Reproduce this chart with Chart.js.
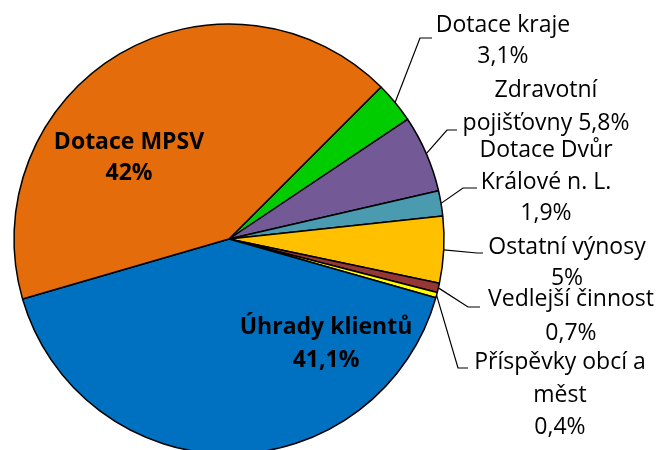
<!DOCTYPE html>
<html>
<head>
<meta charset="utf-8">
<script src="https://cdn.jsdelivr.net/npm/chart.js@4/dist/chart.umd.min.js"></script>
<style>
html,body{margin:0;padding:0;background:#fff;overflow:hidden;}
#wrap{width:658px;height:450px;position:relative;}
</style>
</head>
<body>
<div id="wrap"><canvas id="c" width="658" height="450"></canvas></div>
<script>
// categories in clockwise order starting at 45° from top
const categories = ["Dotace kraje", "Zdravotní pojišťovny", "Dotace Dvůr Králové n. L.", "Ostatní výnosy", "Vedlejší činnost", "Příspěvky obcí a měst", "Úhrady klientů", "Dotace MPSV"];
const shares = [3.1, 5.8, 1.9, 5, 0.7, 0.4, 41.1, 42];
const shareLabels = ["3,1%", "5,8%", "1,9%", "5%", "0,7%", "0,4%", "41,1%", "42%"];
const colors = ["#00CC00", "#735A96", "#4A9AB0", "#FFC000", "#953735", "#FFFF00", "#0070C0", "#E46C0A"];

// label layout (text lines, line centres, leader elbow)
const labelLayout = [
  {lines: ["Dotace kraje", "3,1%"], x: 503, y: [25, 56], elbow: [[420, 38], [432, 38]]},
  {lines: ["Zdravotní", "pojišťovny 5,8%"], x: 546, y: [90, 123], elbow: [[447, 130], [457, 130]]},
  {lines: ["Dotace Dvůr", "Králové n. L.", "1,9%"], x: 546, y: [150, 182, 213], elbow: [[463, 188], [477, 188]]},
  {lines: ["Ostatní výnosy", "5%"], x: 567, y: [247, 278], elbow: [[477, 253], [483, 253]]},
  {lines: ["Vedlejší činnost", "0,7%"], x: 571, y: [299, 333], elbow: [[468, 307], [480, 307]]},
  {lines: ["Příspěvky obcí a", "měst", "0,4%"], x: 560, y: [362, 395, 427], elbow: [[458, 368], [468, 368]]},
  {lines: ["Úhrady klientů", "41,1%"], x: 326, y: [327, 360], bold: true},
  {lines: ["Dotace MPSV", "42%"], x: 129, y: [142, 173], bold: true}
];

const FONT = "'Open Sans', sans-serif";

const labelPlugin = {
  id: 'pieLabels',
  afterDatasetsDraw(chart) {
    const ctx = chart.ctx;
    const meta = chart.getDatasetMeta(0);
    ctx.save();
    meta.data.forEach((arc, i) => {
      const L = labelLayout[i];
      if (!L) return;
      if (L.elbow) {
        const p = arc.getProps(['x', 'y', 'startAngle', 'endAngle', 'outerRadius']);
        const mid = (p.startAngle + p.endAngle) / 2;
        const ax = p.x + Math.cos(mid) * p.outerRadius;
        const ay = p.y + Math.sin(mid) * p.outerRadius;
        ctx.beginPath();
        ctx.moveTo(ax, ay);
        L.elbow.forEach(pt => ctx.lineTo(pt[0], pt[1]));
        ctx.strokeStyle = '#000';
        ctx.lineWidth = 1.2;
        ctx.stroke();
      }
      ctx.fillStyle = '#000';
      ctx.textAlign = 'center';
      ctx.textBaseline = 'middle';
      ctx.font = (L.bold ? 'bold ' : '') + '23px ' + FONT;
      L.lines.forEach((t, k) => ctx.fillText(t, L.x, L.y[k]));
    });
    ctx.restore();
  }
};

new Chart(document.getElementById('c'), {
  type: 'pie',
  data: {
    labels: categories,
    datasets: [{
      data: shares,
      backgroundColor: colors,
      borderColor: '#000',
      borderWidth: 1.5,
      clip: false
    }]
  },
  options: {
    responsive: false,
    animation: false,
    rotation: 45,
    radius: 215,
    layout: {padding: {left: 14, right: 214, top: 28, bottom: 0}},
    plugins: {legend: {display: false}, tooltip: {enabled: false}}
  },
  plugins: [labelPlugin]
});
</script>
</body>
</html>
